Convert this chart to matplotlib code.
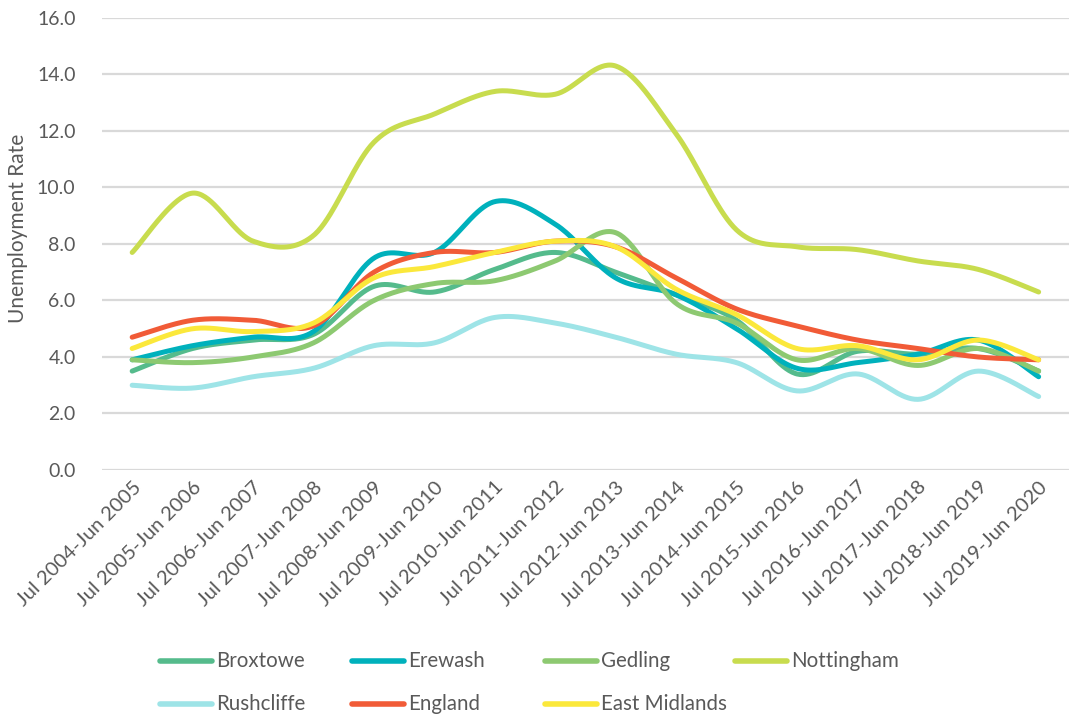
import numpy as np
import matplotlib
matplotlib.use("Agg")
import matplotlib.pyplot as plt
from matplotlib.lines import Line2D

plt.rcParams['font.family'] = ['Lato', 'DejaVu Sans']

periods = ["Jul 2004-Jun 2005", "Jul 2005-Jun 2006", "Jul 2006-Jun 2007", "Jul 2007-Jun 2008",
           "Jul 2008-Jun 2009", "Jul 2009-Jun 2010", "Jul 2010-Jun 2011", "Jul 2011-Jun 2012",
           "Jul 2012-Jun 2013", "Jul 2013-Jun 2014", "Jul 2014-Jun 2015", "Jul 2015-Jun 2016",
           "Jul 2016-Jun 2017", "Jul 2017-Jun 2018", "Jul 2018-Jun 2019", "Jul 2019-Jun 2020"]

broxtowe     = [3.5, 4.3, 4.6, 4.8, 6.5, 6.3, 7.1, 7.7, 7.0, 6.2, 5.3, 3.4, 4.2, 4.1, 4.3, 3.5]
erewash      = [3.9, 4.4, 4.7, 4.9, 7.5, 7.7, 9.5, 8.7, 6.8, 6.2, 5.0, 3.6, 3.8, 4.1, 4.6, 3.3]
gedling      = [3.9, 3.8, 4.0, 4.5, 6.0, 6.6, 6.7, 7.4, 8.4, 5.9, 5.2, 3.9, 4.3, 3.7, 4.3, 3.5]
nottingham   = [7.7, 9.8, 8.1, 8.3, 11.6, 12.6, 13.4, 13.3, 14.3, 11.9, 8.5, 7.9, 7.8, 7.4, 7.1, 6.3]
rushcliffe   = [3.0, 2.9, 3.3, 3.6, 4.4, 4.5, 5.4, 5.2, 4.7, 4.1, 3.8, 2.8, 3.4, 2.5, 3.5, 2.6]
england      = [4.7, 5.3, 5.3, 5.1, 7.0, 7.7, 7.7, 8.1, 7.9, 6.8, 5.7, 5.1, 4.6, 4.3, 4.0, 3.9]
eastmidlands = [4.3, 5.0, 4.9, 5.2, 6.8, 7.2, 7.7, 8.1, 7.9, 6.4, 5.5, 4.3, 4.4, 3.9, 4.6, 3.9]

series_names = ["Broxtowe", "Erewash", "Gedling", "Nottingham", "Rushcliffe", "England", "East Midlands"]
series_values = [broxtowe, erewash, gedling, nottingham, rushcliffe, england, eastmidlands]
series_colors = ["#55BB8C", "#00B1BC", "#8DC971", "#C8DC4E", "#9EE4E7", "#F15B37", "#FBE83B"]

yticks = [0, 2, 4, 6, 8, 10, 12, 14, 16]
text_color = "#595959"


def smooth(xs, ys, n=40):
    xs = np.asarray(xs, float)
    ys = np.asarray(ys, float)
    P = np.column_stack([xs, ys])
    Pext = np.vstack([P[0], P, P[-1]])
    out = []
    t = np.linspace(0, 1, n)
    for i in range(len(P) - 1):
        p0, p1, p2, p3 = Pext[i], Pext[i + 1], Pext[i + 2], Pext[i + 3]
        c1 = p1 + (p2 - p0) / 6.0
        c2 = p2 - (p3 - p1) / 6.0
        b = ((1 - t) ** 3)[:, None] * p1 + (3 * (1 - t) ** 2 * t)[:, None] * c1 \
            + (3 * (1 - t) * t ** 2)[:, None] * c2 + (t ** 3)[:, None] * p2
        out.append(b if i == 0 else b[1:])
    out = np.vstack(out)
    return out[:, 0], out[:, 1]


fig = plt.figure(figsize=(10.71, 7.16), dpi=100)
ax = fig.add_axes([0.0952, 0.3436, 0.9028, 0.6313])

x = np.arange(len(periods))
for name, vals, col in zip(series_names, series_values, series_colors):
    sx, sy = smooth(x, vals)
    ax.plot(sx, sy, color=col, lw=3.6, solid_capstyle='round', solid_joinstyle='round', zorder=3)

ax.set_xlim(-0.5, len(periods) - 0.5)
ax.set_ylim(0, 16)
ax.set_yticks(yticks)
ax.set_yticklabels([f"{v:.1f}" for v in yticks], color=text_color, fontsize=14)
ax.yaxis.grid(True, color="#D9D9D9", lw=1.6)
ax.set_axisbelow(True)
for s in ax.spines.values():
    s.set_visible(False)
ax.tick_params(axis='y', length=0, pad=19)
ax.tick_params(axis='x', length=0, pad=6)
ax.set_xticks(x)
ax.set_xticklabels(periods, rotation=45, ha='right', va='top', rotation_mode='anchor',
                   color=text_color, fontsize=14.5)

fig.text(18 / 1071, 1 - 228 / 716, "Unemployment Rate", rotation=90, ha='center', va='center',
         color=text_color, fontsize=15)

# legend (Excel-style fixed columns)
col_x = [160, 352, 545, 735]
row_y = [661, 704]
for k, (name, col) in enumerate(zip(series_names, series_colors)):
    r, c = divmod(k, 4)
    x0 = col_x[c]
    y0 = row_y[r]
    fig.add_artist(Line2D([x0 / 1071, (x0 + 52) / 1071], [1 - y0 / 716, 1 - y0 / 716],
                          color=col, lw=4, solid_capstyle='round', transform=fig.transFigure))
    fig.text((x0 + 56) / 1071, 1 - y0 / 716, name, ha='left', va='center',
             color=text_color, fontsize=14.8)

fig.savefig("out.png", dpi=100)
